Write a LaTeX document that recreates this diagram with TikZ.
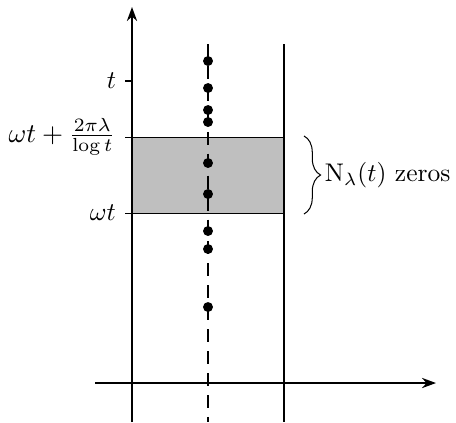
\documentclass[tikz,border=0pt]{standalone}
\usepackage{amssymb,amsfonts,amsmath}
\usetikzlibrary{positioning}
\usetikzlibrary{arrows.meta}
\usetikzlibrary{decorations.pathreplacing}
\tikzset{zero/.style = {fill, circle, inner sep = 0, minimum size = 3.9pt}}
\tikzset{axis/.style = {line width = 0.8pt}}
\definecolor{mgray}{gray}{0.75}

\begin{document}
\begin{tikzpicture}[x=0.392pt, y=-0.392pt, line width=0.4pt]
      \useasboundingbox (0, 0) rectangle (456, 422);
      \fill [mgray] (132, 137) rectangle (284, 213);
      % the two verticals
      \draw [dash pattern = on 5.1pt off 3.5pt] (208, 44) -- (208, 422);
      \draw (284, 44) -- (284, 422);
      % strip edges and ticks
      \draw (125, 137) -- (284, 137);
      \draw (125, 213) -- (284, 213);
      \draw [axis] (125, 81) -- (132, 81);
      % axes
      \draw [axis, -{Stealth[length=5.5pt, width=4pt]}] (132, 422) -- (132, 7);
      \draw [axis, -{Stealth[length=5.5pt, width=4pt]}] (95, 383) -- (436, 383);
      % labels
      \node (t) [left] at (125, 81) {$t$};
      \node (top) [left, scale = 1.06] at (125, 137) {$\omega t + \frac{2\pi\lambda}{\log t}$};
      \node (bot) [left] at (125, 213) {$\omega t$};
      % the zeros
      \foreach \y [count = \i] in {61, 88, 110, 122, 163, 194, 231, 249, 307}
        \node (z\i) [zero] at (208, \y) {};
      \draw [decorate, decoration = {brace, amplitude = 6.5pt}]
        (304, 136) -- (304, 214)
        node (count) [midway, right = 7pt, inner sep = 1pt] {$\mathrm{N}_\lambda(t)$ zeros};
    \end{tikzpicture}
\end{document}
